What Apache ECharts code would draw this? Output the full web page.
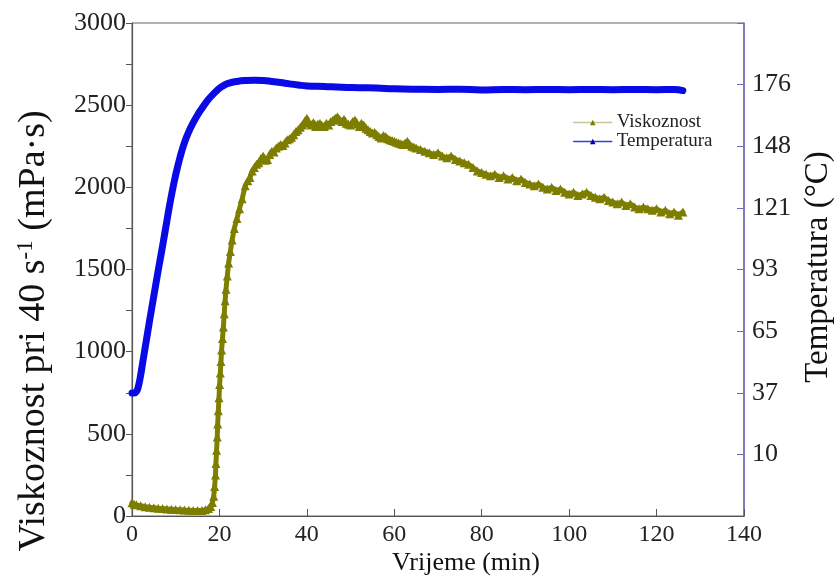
<!DOCTYPE html>
<html>
<head>
<meta charset="utf-8">
<script src="https://cdn.jsdelivr.net/npm/echarts@6/dist/echarts.min.js"></script>
<style>html,body{margin:0;padding:0;background:#fff;}#c{width:840px;height:581px;}</style>
</head>
<body>
<div id="c"></div>
<script>
// ---- data ----
var xTickLabels = ['0','20','40','60','80','100','120','140'];
var yLeftTickLabels = ['0','500','1000','1500','2000','2500','3000'];
// right axis ticks are Fahrenheit steps (0..400 °F every 50) labelled in °C
var tempTickLabels = ['', '10', '37', '65', '93', '121', '148', '176', ''];

// Temperatura: [time (min), temperature (°C)]
var temperatura = [
  [0,37.7],[0.5,37.7],[1,38.2],[1.5,41],[2,46],[2.5,52],[3,58],[4,70],[5,81.5],[6,93],
  [7,104],[8,115.5],[9,126.5],[10,136],[11,144],[12,150.5],[13,155.5],[14,159.5],[15,163],
  [16,166],[17,168.8],[18,171.2],[19,173.2],[20,175],[21,176.3],[22,177.2],[24,178.1],
  [26,178.5],[28,178.6],[30,178.5],[32,178.1],[34,177.6],[36,177],[38,176.5],[40,176.1],
  [44,175.8],[48,175.5],[52,175.3],[56,175.1],[60,174.8],[65,174.6],[70,174.5],[75,174.6],
  [80,174.3],[85,174.5],[90,174.4],[95,174.5],[100,174.4],[105,174.5],[110,174.4],[115,174.5],
  [120,174.4],[124,174.5],[126,174.0]
];

// Viskoznost: [time (min), viscosity (mPa·s)]
var viskoznost = [
  [0,80],[0.5,72],[1,68],[2,62],[3,57],[4,53],[5,50],[6,47],[7,45],[8,43],[9,41],[10,39],
  [11,38],[12,36],[13,35],[14,34],[15,33],[16,34],[16.8,38],[17.5,45],[18.0,58],[18.4,82],
  [18.7,120],[18.9,180],[19.1,250],[19.2,320],[19.35,400],[19.5,480],[19.6,560],[19.75,640],
  [19.9,720],[20.05,800],[20.2,870],[20.35,940],[20.5,1010],[20.7,1080],[20.9,1150],[21.1,1230],
  [21.3,1310],[21.5,1380],[21.8,1460],[22.1,1540],[22.5,1610],[22.9,1680],[23.4,1750],[24.0,1810],
  [24.6,1870],[25.2,1930],[25.9,2010],[26.5,2040],[27.0,2060],[27.5,2100],[28,2120],[28.5,2140],
  [29,2150],[29.5,2175],[30,2190],[30.5,2165],[31,2170],[31.5,2200],[32,2220],[32.5,2215],
  [33,2240],[33.5,2250],[34,2260],[34.5,2255],[35,2270],[35.5,2290],[36,2295],[36.5,2305],
  [37,2320],[37.5,2340],[38,2350],[38.5,2365],[39,2380],[39.5,2400],[40,2420],[40.5,2390],
  [41,2380],[41.5,2395],[42,2370],[42.5,2385],[43,2390],[43.5,2375],[44,2370],[44.5,2390],
  [45,2380],[45.5,2400],[46,2410],[46.5,2420],[47,2430],[47.5,2410],[48,2400],[48.5,2415],
  [49,2390],[49.5,2385],[50,2380],[50.5,2400],[51,2410],[51.5,2385],[52,2370],[52.5,2390],
  [53,2380],[53.5,2360],[54,2350],[54.5,2340],[55,2330],[55.5,2335],[56,2320],[56.5,2310],
  [57,2300],[57.5,2315],[58,2310],[58.5,2295],[59,2290],[59.5,2285],[60,2280],[60.5,2275],
  [61,2270],[61.5,2265],[62,2260],[62.5,2270],[63,2280],[63.5,2260],[64,2250],[64.5,2245],
  [65,2240],[66,2230],[67,2220],[68,2210],[69,2200],[70,2210],[71,2190],[72,2180],[73,2190],
  [74,2170],[75,2160],[76,2150],[77,2140],[78,2120],[79,2100],[80,2090],[81,2080],[82,2070],
  [83,2080],[84,2060],[85,2070],[86,2050],[87,2060],[88,2040],[89,2050],[90,2030],[91,2020],
  [92,2010],[93,2020],[94,2000],[95,1990],[96,2000],[97,1980],[98,1990],[99,1970],[100,1960],
  [101,1970],[102,1950],[103,1960],[104,1970],[105,1950],[106,1940],[107,1930],[108,1940],
  [109,1920],[110,1910],[111,1900],[112,1910],[113,1890],[114,1900],[115,1880],[116,1870],
  [117,1880],[118,1870],[119,1860],[120,1870],[121,1850],[122,1860],[123,1840],[124,1850],
  [125,1830],[126,1850]
];

// ---- chart ----
var FONT = 'Liberation Serif';
var tMin = -160/9, tMax = 1840/9, tInt = 250/9; // 0..400 °F expressed in °C

var chart = echarts.init(document.getElementById('c'), null, {renderer:'canvas'});
chart.setOption({
  backgroundColor: '#ffffff',
  animation: false,
  grid: {left: 132, right: 96, top: 23, bottom: 65, show: true, borderColor: '#666', borderWidth: 1},
  legend: {
    orient: 'vertical', left: 568, top: 108, itemWidth: 38, itemHeight: 7, itemGap: 0,
    textStyle: {fontFamily: FONT, fontSize: 19, color: '#222'},
    data: [
      {name: 'Viskoznost', lineStyle: {color: '#c4c89a', width: 1.5}, itemStyle: {color: '#7d7d00'}},
      {name: 'Temperatura', lineStyle: {color: '#3a3ae0', width: 1.5}, itemStyle: {color: '#0000b0'}}
    ]
  },
  xAxis: {
    type: 'value', min: 0, max: 140, interval: 20,
    axisLine: {lineStyle: {color: '#555', width: 1.2}},
    axisTick: {inside: true, length: 7, lineStyle: {color: '#555'}},
    splitLine: {show: false},
    axisLabel: {fontFamily: FONT, fontSize: 24, color: '#222', margin: 7,
      formatter: function (v) { return xTickLabels[Math.round(v / 20)]; }}
  },
  yAxis: [
    {
      type: 'value', min: 0, max: 3000, interval: 500, position: 'left',
      axisLine: {show: true, lineStyle: {color: '#555', width: 1.2}},
      axisTick: {show: true, inside: false, length: 6, lineStyle: {color: '#555'}},
      minorTick: {show: true, splitNumber: 2, length: 6, lineStyle: {color: '#555'}},
      splitLine: {show: false},
      axisLabel: {fontFamily: FONT, fontSize: 26, color: '#222', margin: 6,
        formatter: function (v) { return yLeftTickLabels[Math.round(v / 500)]; }}
    },
    {
      type: 'value', min: tMin, max: tMax, interval: tInt, position: 'right',
      axisLine: {show: true, lineStyle: {color: '#6a6ac0', width: 1.5}},
      axisTick: {show: true, inside: true, length: 7, lineStyle: {color: '#6a6ac0'}},
      splitLine: {show: false},
      axisLabel: {fontFamily: FONT, fontSize: 26, color: '#222', margin: 8, showMinLabel: false, showMaxLabel: false,
        formatter: function (v) { return tempTickLabels[Math.round((v - tMin) / tInt)]; }}
    }
  ],
  graphic: [
    {type: 'text', x: 34, y: 331, rotation: Math.PI / 2,
      style: {text: 'Viskoznost pri 40 s{sup|-1} (mPa·s)', font: '38px ' + FONT, fill: '#111',
        align: 'center', verticalAlign: 'middle',
        rich: {sup: {fontSize: 23, fontFamily: FONT, fill: '#111', padding: [0, 0, 16, 0]}}}},
    {type: 'text', x: 818, y: 267, rotation: Math.PI / 2,
      style: {text: 'Temperatura (°C)', font: '33px ' + FONT, fill: '#111', align: 'center', verticalAlign: 'middle'}},
    {type: 'text', x: 466, y: 563,
      style: {text: 'Vrijeme (min)', font: '26px ' + FONT, fill: '#111', align: 'center', verticalAlign: 'middle'}}
  ],
  series: [
    {
      name: 'Viskoznost', type: 'line', yAxisIndex: 0, data: viskoznost,
      symbol: 'triangle', symbolSize: 9, showAllSymbol: true,
      lineStyle: {color: '#808000', width: 5, join: 'round', cap: 'round'}, itemStyle: {color: '#7d7d00'}, z: 2
    },
    {
      name: 'Temperatura', type: 'line', yAxisIndex: 1, data: temperatura,
      smooth: 0.5, showSymbol: false, symbol: 'triangle',
      lineStyle: {color: '#0a0ae6', width: 7, join: 'round', cap: 'round'}, itemStyle: {color: '#0000b0'}, z: 3
    }
  ]
});
</script>
</body>
</html>
